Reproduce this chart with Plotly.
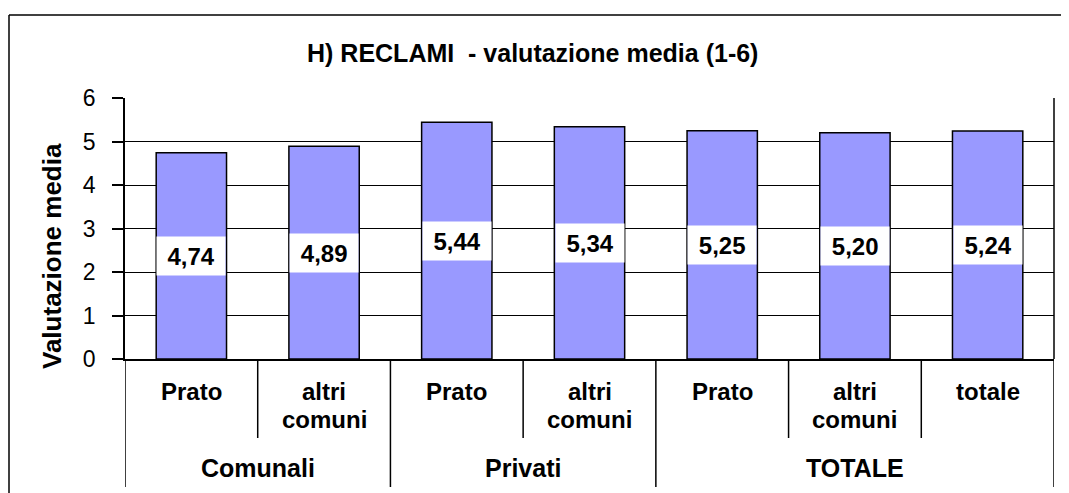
import plotly.graph_objects as go

groups = ["Comunali", "Comunali", "Privati", "Privati", "TOTALE", "TOTALE", "TOTALE"]
subcats = ["Prato", "altri<br>comuni", "Prato", "altri<br>comuni", "Prato", "altri<br>comuni", "totale"]
values = [4.74, 4.89, 5.44, 5.34, 5.25, 5.20, 5.24]
value_labels = ["4,74", "4,89", "5,44", "5,34", "5,25", "5,20", "5,24"]
group_names = ["Comunali", "Privati", "TOTALE"]
y_ticks = [0, 1, 2, 3, 4, 5, 6]

# page has an 8px body margin; figure is drawn from (8, 8)
OFF = 8
W, H = 1069 - OFF, 493 - OFF
PL, PR, PT, PB = 125, 1054, 98, 359   # plot area in screenshot pixels
pw = PR - PL
ph = PB - PT
L, T = PL - OFF, PT - OFF
R = W - (PR - OFF)
B = H - (PB - OFF)


def py(p):
    return (PB - p) / ph


def px(p):
    return (p - PL) / pw


FONT = "Liberation Sans, Arial, sans-serif"
xs = list(range(len(values)))
bargap = 0.47
bar_px = pw / len(values) * (1 - bargap)

fig = go.Figure()
fig.add_trace(go.Bar(
    x=xs, y=values,
    marker=dict(color="#9999FF", line=dict(color="black", width=1.5)),
    width=1 - bargap,
    hoverinfo="skip",
))

ann = []
# value labels in white boxes at middle of the bars
for i, (v, lab) in enumerate(zip(values, value_labels)):
    ann.append(dict(x=i, y=v / 2, xref="x", yref="y", text="<b>" + lab + "</b>",
                    showarrow=False, bgcolor="white", width=bar_px - 2, height=38,
                    borderpad=0, font=dict(family=FONT, size=24, color="black")))
# sub-category labels (one annotation per text line)
line_y = [391, 419]
for i, s in enumerate(subcats):
    for k, part in enumerate(s.split("<br>")):
        ann.append(dict(x=i, y=py(line_y[k]), xref="x", yref="paper", text="<b>" + part + "</b>",
                        showarrow=False, yanchor="middle",
                        font=dict(family=FONT, size=24, color="black")))
# group labels
centers = {}
for i, g in enumerate(groups):
    centers.setdefault(g, []).append(i)
for g in group_names:
    idx = centers[g]
    cx = (idx[0] + idx[-1]) / 2
    ann.append(dict(x=cx, y=py(468), xref="x", yref="paper", text="<b>" + g + "</b>",
                    showarrow=False, yanchor="middle",
                    font=dict(family=FONT, size=25, color="black")))
# title
ann.append(dict(x=px(532), y=py(53), xref="paper", yref="paper",
                text="<b>H) RECLAMI  - valutazione media (1-6)</b>", showarrow=False,
                yanchor="middle",
                font=dict(family=FONT, size=25, color="black")))
# y title
ann.append(dict(x=px(52), y=py(256), xref="paper", yref="paper",
                text="<b>Valutazione media</b>", showarrow=False, textangle=-90,
                xanchor="center", yanchor="middle",
                font=dict(family=FONT, size=26, color="black")))

shapes = []
# divider lines below axis
for i in range(len(values) + 1):
    xb = i - 0.5
    if i == 0 or i == len(values) or groups[i - 1] != groups[i]:
        y1 = py(487)
    else:
        y1 = py(438)
    shapes.append(dict(type="line", xref="x", yref="paper", x0=xb, x1=xb, y0=0, y1=y1,
                       line=dict(color="black", width=1.5)))
# plot area right border
shapes.append(dict(type="line", xref="paper", yref="paper", x0=1, x1=1, y0=0, y1=1,
                   line=dict(color="black", width=1.5)))
# outer frame
shapes.append(dict(type="line", xref="paper", yref="paper", x0=px(9), x1=px(9),
                   y0=py(15), y1=py(500), line=dict(color="black", width=1.5)))
shapes.append(dict(type="line", xref="paper", yref="paper", x0=px(9), x1=px(1075),
                   y0=py(15), y1=py(15), line=dict(color="black", width=1.5)))

fig.update_layout(
    width=W, height=H,
    margin=dict(l=L, r=R, t=T, b=B, pad=0),
    paper_bgcolor="white", plot_bgcolor="white",
    showlegend=False,
    annotations=ann, shapes=shapes,
    font=dict(family=FONT, color="black"),
    xaxis=dict(range=[-0.5, len(values) - 0.5], showticklabels=False, showgrid=False,
               zeroline=False, showline=True, linecolor="black", linewidth=1.5, ticks=""),
    yaxis=dict(range=[0, 6], tickvals=y_ticks, showgrid=True, gridcolor="black", gridwidth=1,
               zeroline=False, showline=True, linecolor="black", linewidth=1.5,
               ticks="outside", ticklen=11, tickcolor="black", tickwidth=1.5,
               ticklabelstandoff=12,
               tickfont=dict(family=FONT, size=23, color="black")),
)

fig.write_html("out.html")
